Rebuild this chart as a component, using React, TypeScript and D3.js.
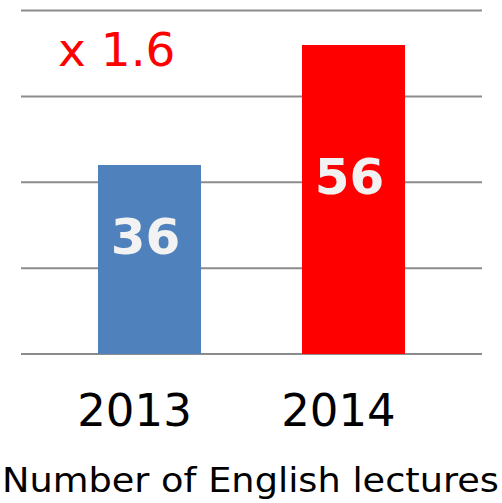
import React from "react";
import * as d3 from "d3";

const categories = ["2013", "2014"];
const values = [36, 56];
const barColors = ["#4f81bd", "#ff0000"];
const ratioLabel = "x 1.6";
const axisTitle = "Number of English lectures";
const gridCount = 5;

const W = 502;
const H = 503;

export default function App() {
  const x = d3
    .scaleBand<string>()
    .domain(categories)
    .range([21, 482])
    .paddingInner(0.495)
    .paddingOuter(0.3775)
    .align(0.5);
  const y = d3.scaleLinear().domain([4.5, 61.75]).range([354, 10.5]);
  const [d0, d1] = y.domain();
  const grid = d3.range(gridCount).map((i) => d0 + (i * (d1 - d0)) / (gridCount - 1));
  const font = "'DejaVu Sans', Verdana, sans-serif";

  return (
    <svg
      width={W}
      height={H}
      style={{ position: "absolute", left: 0, top: 0, background: "#fff" }}
    >
      {grid.map((g, i) => (
        <line
          key={i}
          x1={21}
          x2={482}
          y1={y(g)}
          y2={y(g)}
          stroke="#8c8c8c"
          strokeWidth={2}
        />
      ))}
      {categories.map((c, i) => {
        const bx = x(c)!;
        const top = y(values[i]);
        const bottom = y(d0);
        const mid = (top + bottom) / 2 - 24;
        return (
          <g key={c}>
            <rect x={bx} y={top} width={x.bandwidth()} height={bottom - top} fill={barColors[i]} />
            <text
              x={bx + x.bandwidth() / 2 - 4}
              y={mid}
              dy="0.36em"
              textAnchor="middle"
              fill="#f2f2f2"
              fontFamily={font}
              fontWeight="bold"
              fontSize={50}
            >
              {values[i]}
            </text>
            <text
              x={bx + x.bandwidth() / 2 - 15}
              y={425.5}
              textAnchor="middle"
              fill="#000"
              fontFamily={font}
              fontSize={45}
            >
              {c}
            </text>
          </g>
        );
      })}
      <text x={58} y={66} fill="#ff0000" fontFamily={font} fontSize={47}>
        {ratioLabel}
      </text>
      <text
        x={2}
        y={492}
        fill="#000"
        fontFamily={font}
        fontSize={33}
        textLength={497}
        lengthAdjust="spacingAndGlyphs"
      >
        {axisTitle}
      </text>
    </svg>
  );
}
